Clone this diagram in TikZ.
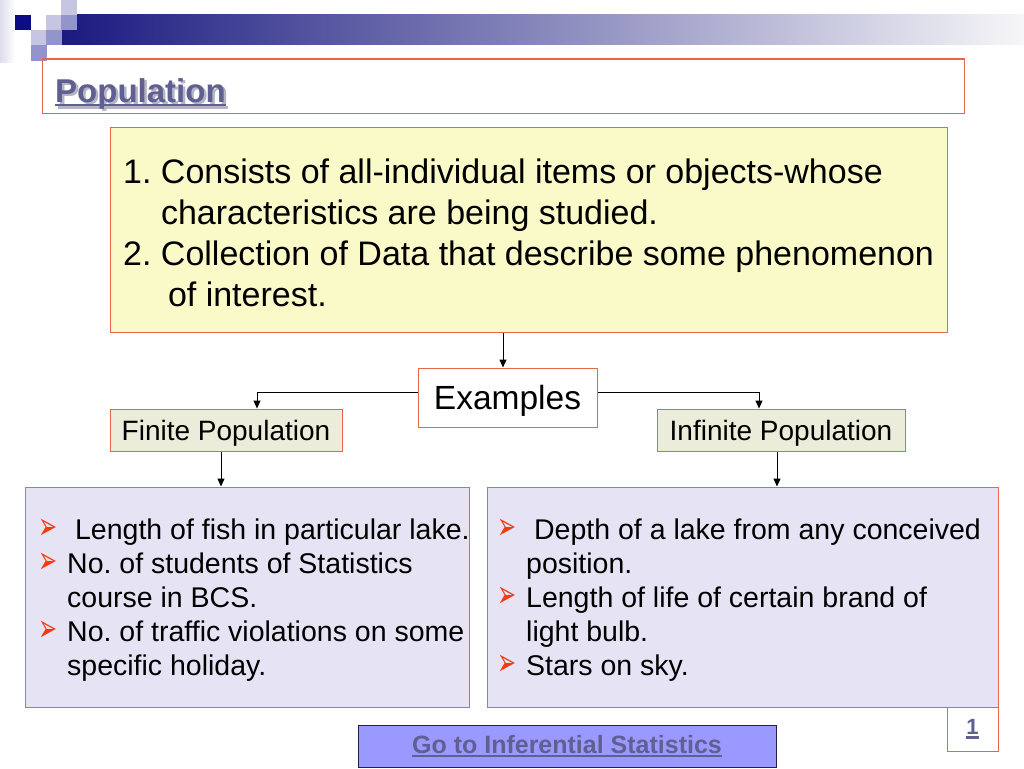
\documentclass[tikz,border=0pt]{standalone}
\usepackage{fontspec}
\setmainfont{Liberation Sans}
\newfontfamily\symfont{DejaVu Sans}
\usepackage{graphicx}
\usepackage{xcolor}
\usepackage{tikz}
\usetikzlibrary{arrows.meta}
\definecolor{boxline}{HTML}{E2694B}
\definecolor{defnfill}{HTML}{FAFAC8}
\definecolor{kindfill}{HTML}{ECECDA}
\definecolor{listfill}{HTML}{E6E4F4}
\definecolor{linkfill}{HTML}{9999FF}
\definecolor{linkline}{HTML}{20204A}
\definecolor{titleblue}{HTML}{5F5F92}
\definecolor{titleshadow}{HTML}{B4B4C4}
\definecolor{bulletred}{HTML}{F23C0E}
\definecolor{hdrnavy}{HTML}{1A1A80}
\definecolor{hdrgray}{HTML}{A4A4BE}
\definecolor{hdrend}{HTML}{F6F6F8}
\definecolor{sqA}{HTML}{C6C6E2}
\definecolor{sqB}{HTML}{9494CC}
\definecolor{sqC}{HTML}{0C0C84}
\newcommand{\ultext}[1]{\setbox0\hbox{#1}\rlap{\rule[-4pt]{\wd0}{2.2pt}}\box0}
\newcommand{\shadowtitle}[1]{\rlap{\hspace{2.5pt}\raisebox{-2.5pt}{\color{titleshadow}\ultext{#1}}}{\color{titleblue}\ultext{#1}}}
\newcommand{\bul}{\makebox[29pt][l]{\symfont\fontsize{24}{24}\selectfont\color{bulletred}\scalebox{0.95}[1.6]{➢}}}
\newcommand{\hang}{\hspace*{29pt}}
\frenchspacing

\begin{document}
\begin{tikzpicture}[x=1pt,y=-1pt,
  box/.style={draw=boxline, line width=1pt, inner sep=0pt},
  lbl/.style={inner sep=0pt, align=left},
  conn/.style={-{Triangle[length=8pt,width=7pt]}, line width=1pt}]%
\useasboundingbox (0,0) rectangle (1024,768);%
\fill[white] (0,0) rectangle (1024,768);%
% header band and squares
\shade[left color=sqA!60, right color=white] (0,0) rectangle (15,62);%
\shade[left color=hdrnavy, middle color=hdrgray, right color=hdrend] (61,15) rectangle (1024,45);%
\foreach \x/\y/\c in {61/0/sqA, 46/15/sqA, 61/15/sqB, 15/15/sqC, 31/30/sqA, 46/30/sqB, 31/45/sqB}
  \fill[\c] (\x,\y) rectangle +(15.5,15.5);%
% title
\node[box, minimum width=922, minimum height=54] (titlebox) at (503,86) {};%
\node[lbl, anchor=base west, font=\fontsize{33}{40}\selectfont\bfseries] (title) at (55,102) {\shadowtitle{Population}};%
% definition (base anchor = last line)
\node[box, fill=defnfill, minimum width=837, minimum height=205] (defn) at (528.5,229.5) {};%
\node[lbl, anchor=base west, font=\fontsize{34}{41}\selectfont] (defntext) at (123,306) {1. Consists of all-individual items or objects-whose\\
\hphantom{1. }characteristics are being studied.\\
2. Collection of Data that describe some phenomenon\\
\hphantom{2. }\hspace{7pt}of interest.};%
% examples and kinds
\node[box, fill=white, minimum width=179, minimum height=59, text depth=0pt, font=\fontsize{33.5}{40}\selectfont] (examples) at (507.5,397.5) {Examples};%
\node[box, fill=kindfill, minimum width=232, minimum height=42, text depth=0pt, font=\fontsize{28}{34}\selectfont] (finite) at (226,430) {Finite Population};%
\node[box, fill=kindfill, minimum width=248, minimum height=42, text depth=0pt, font=\fontsize{28}{34}\selectfont] (infinite) at (781,430) {Infinite Population};%
% lists
\node[box, fill=listfill, minimum width=444, minimum height=220] (leftlist) at (247,597) {};%
\node[box, fill=listfill, minimum width=511, minimum height=220] (rightlist) at (742.5,597) {};%
\node[lbl, anchor=base west, font=\fontsize{28.5}{34}\selectfont] (leftitems) at (38,675) {\bul\ Length of fish in particular lake.\\
\bul No. of students of Statistics\\
\hang course in BCS.\\
\bul No. of traffic violations on some\\
\hang specific holiday.};%
\node[lbl, anchor=base west, font=\fontsize{28.5}{34}\selectfont] (rightitems) at (497,675) {\bul\ Depth of a lake from any conceived\\
\hang position.\\
\bul Length of life of certain brand of\\
\hang light bulb.\\
\bul Stars on sky.};%
% connectors
\draw[conn] ([xshift=-4.5]examples.north |- defn.south) -- ([xshift=-4.5]examples.north);%
\draw[conn] ([yshift=5.5]examples.west) -| ([xshift=31]finite.north);%
\draw[conn] ([yshift=5.5]examples.east) -| ([xshift=-22]infinite.north);%
\draw[conn] ([xshift=-5]finite.south) -- ([xshift=-5]finite.south |- leftlist.north);%
\draw[conn] ([xshift=-4]infinite.south) -- ([xshift=-4]infinite.south |- rightlist.north);%
% footer
\node[box, minimum width=51, minimum height=44, font=\fontsize{22}{26}\selectfont\bfseries, text=titleblue] (pagenum) at (972.5,729) {\ultext{1}};%
\node[draw=linkline, line width=1pt, fill=linkfill, inner sep=0pt, minimum width=418, minimum height=42, font=\fontsize{25}{30}\selectfont\bfseries, text=titleblue] (golink) at (567,746) {\ultext{Go to Inferential Statistics}};%
\end{tikzpicture}
\end{document}
